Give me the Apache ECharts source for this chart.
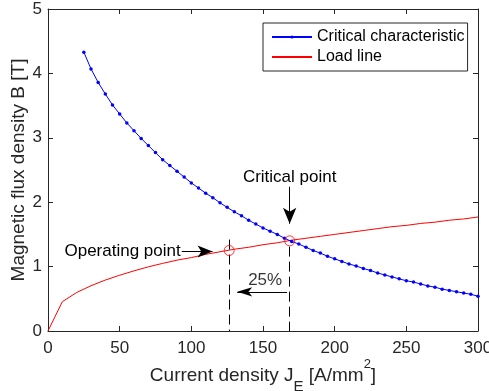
<!DOCTYPE html>
<html>
<head>
<meta charset="utf-8">
<script src="https://cdn.jsdelivr.net/npm/echarts@6/dist/echarts.min.js"></script>
<style>html,body{margin:0;padding:0;background:#fff}#c{width:489px;height:391px}</style>
</head>
<body>
<div id="c"></div>
<script>
// Critical characteristic (markers every 5 A/mm2)
const xCrit = [25,30,35,40,45,50,55,60,65,70,75,80,85,90,95,100,105,110,115,120,125,130,135,140,145,150,155,160,165,170,175,180,185,190,195,200,205,210,215,220,225,230,235,240,245,250,255,260,265,270,275,280,285,290,295,300];
const bCrit = [4.33,4.07,3.86,3.68,3.51,3.37,3.23,3.11,2.99,2.88,2.77,2.66,2.57,2.48,2.39,2.30,2.22,2.14,2.07,1.99,1.92,1.85,1.79,1.72,1.66,1.60,1.55,1.50,1.44,1.39,1.35,1.30,1.25,1.21,1.16,1.12,1.08,1.04,1.01,0.97,0.94,0.90,0.87,0.84,0.81,0.78,0.76,0.73,0.70,0.68,0.65,0.63,0.61,0.59,0.57,0.54];
// Load line
const xLoad = [0,10,20,30,40,50,60,70,80,90,100,110,120,130,140,150,160,170,180,190,200,210,220,230,240,250,260,270,280,290,300];
const bLoad = [0,0.455,0.598,0.703,0.791,0.866,0.934,0.996,1.05,1.10,1.14,1.19,1.23,1.27,1.30,1.34,1.37,1.41,1.44,1.47,1.50,1.53,1.56,1.59,1.62,1.64,1.67,1.69,1.72,1.74,1.77];
// Annotation anchors (data coordinates)
const opPoint = [126.4, 1.25];
const critPoint = [168.6, 1.40];
const opDash = [[126.4, 1.42], [126.4, 0]];
const critDash = [[168.6, 1.31], [168.6, 0]];
const opArrow = [[93.3, 1.235], [114.8, 1.235]];
const critArrow = [[168.6, 2.24], [168.6, 1.666]];
const pctArrow = [[132.0, 0.608], [166.8, 0.608]];
const pctLabelPos = [151.5, 0.78];
const xTicks = {min: 0, max: 300, step: 50};
const yTicks = {min: 0, max: 5, step: 1};

const axisColor = '#262626';
const font = 'Liberation Sans, Arial, sans-serif';

const chart = echarts.init(document.getElementById('c'), null, {renderer: 'canvas'});

function zip(xs, ys) { return xs.map((x, i) => [x, ys[i]]); }

const baseX = {
  type: 'value', min: xTicks.min, max: xTicks.max, interval: xTicks.step,
  axisLine: {show: true, onZero: false, lineStyle: {color: axisColor, width: 1}},
  axisTick: {show: true, inside: true, length: 5, lineStyle: {color: axisColor}},
  splitLine: {show: false}
};
const baseY = {
  type: 'value', min: yTicks.min, max: yTicks.max, interval: yTicks.step,
  axisLine: {show: true, onZero: false, lineStyle: {color: axisColor, width: 1}},
  axisTick: {show: true, inside: true, length: 5, lineStyle: {color: axisColor}},
  splitLine: {show: false}
};

const annotLabel = {show: true, color: '#000', fontSize: 17, fontFamily: font};

chart.setOption({
  animation: false,
  backgroundColor: '#fff',
  grid: {left: 48, right: 11, top: 9, bottom: 60, containLabel: false, outerBoundsMode: 'none'},
  legend: {
    data: [
      {name: 'Critical characteristic'},
      {name: 'Load line', itemStyle: {color: 'rgba(0,0,0,0)', borderWidth: 0}}
    ],
    orient: 'vertical', left: 263, top: 23,
    padding: [6, 3, 6, 8],
    itemWidth: 40, itemHeight: 4, itemGap: 4,
    borderColor: '#262626', borderWidth: 1, backgroundColor: '#fff',
    textStyle: {color: '#000', fontSize: 16, fontFamily: font}
  },
  xAxis: [
    Object.assign({}, baseX, {
      position: 'bottom',
      axisLabel: {color: axisColor, fontSize: 17, fontFamily: font, margin: 9},
      name: '{m|Current density J}{s|E}{m| [A/mm}{p|2}{m|]}',
      nameLocation: 'middle', nameGap: 27, nameMoveOverlap: false,
      nameTextStyle: {
        color: axisColor, fontFamily: font,
        rich: {
          m: {fontSize: 19, lineHeight: 36, color: axisColor, fontFamily: font},
          s: {fontSize: 15, lineHeight: 16, verticalAlign: 'bottom', color: axisColor, fontFamily: font},
          p: {fontSize: 13, lineHeight: 20, verticalAlign: 'top', color: axisColor, fontFamily: font}
        }
      }
    }),
    Object.assign({}, baseX, {position: 'top', axisLabel: {show: false}})
  ],
  yAxis: [
    Object.assign({}, baseY, {
      position: 'left',
      axisLabel: {color: axisColor, fontSize: 17, fontFamily: font, margin: 6},
      name: 'Magnetic flux density B [T]',
      nameLocation: 'middle', nameGap: 20, nameRotate: 90, nameMoveOverlap: false,
      nameTextStyle: {color: axisColor, fontSize: 19, fontFamily: font}
    }),
    Object.assign({}, baseY, {position: 'right', axisLabel: {show: false}})
  ],
  series: [
    {
      name: 'Critical characteristic', type: 'line',
      data: zip(xCrit, bCrit),
      symbol: 'circle', symbolSize: 3.5, showSymbol: true,
      lineStyle: {color: '#0000ff', width: 1},
      itemStyle: {color: '#0000ff'},
      z: 3
    },
    {
      name: 'Load line', type: 'line',
      data: zip(xLoad, bLoad),
      symbol: 'none', showSymbol: false,
      lineStyle: {color: '#ff0000', width: 1},
      itemStyle: {color: '#ff0000'},
      z: 2
    },
    {
      name: 'annotations', type: 'line', data: [], silent: true,
      markLine: {
        silent: true, animation: false,
        symbol: ['none', 'none'],
        label: {show: false},
        data: [
          [
            {coord: opDash[0], lineStyle: {color: '#000', width: 1, type: [10, 5]}},
            {coord: opDash[1]}
          ],
          [
            {coord: critDash[0], lineStyle: {color: '#000', width: 1, type: [10, 5]}},
            {coord: critDash[1]}
          ],
          [
            {coord: opArrow[0], symbol: 'none', lineStyle: {color: '#000', width: 1, type: 'solid'},
             label: Object.assign({}, annotLabel, {position: 'start', distance: 1, formatter: 'Operating point'})},
            {coord: opArrow[1], symbol: 'arrow', symbolSize: [9, 15]}
          ],
          [
            {coord: critArrow[0], symbol: 'none', lineStyle: {color: '#000', width: 1, type: 'solid'},
             label: Object.assign({}, annotLabel, {position: 'start', distance: 1, formatter: 'Critical point'})},
            {coord: critArrow[1], symbol: 'arrow', symbolSize: [10, 16]}
          ],
          [
            {coord: pctArrow[0], symbol: 'arrow', symbolSize: [7, 15], lineStyle: {color: '#000', width: 1, type: 'solid'}},
            {coord: pctArrow[1], symbol: 'none'}
          ]
        ]
      },
      z: 4
    },
    {
      name: 'points', type: 'scatter',
      data: [opPoint, critPoint],
      symbol: 'circle', symbolSize: 10,
      itemStyle: {color: 'rgba(0,0,0,0)', borderColor: '#ff0000', borderWidth: 1},
      silent: true, z: 5
    },
    {
      name: 'pct', type: 'scatter',
      data: [pctLabelPos],
      symbol: 'circle', symbolSize: 1,
      itemStyle: {color: 'rgba(0,0,0,0)'},
      label: Object.assign({}, annotLabel, {position: 'inside', formatter: '25%'}),
      silent: true, z: 5
    }
  ]
});
</script>
</body>
</html>
